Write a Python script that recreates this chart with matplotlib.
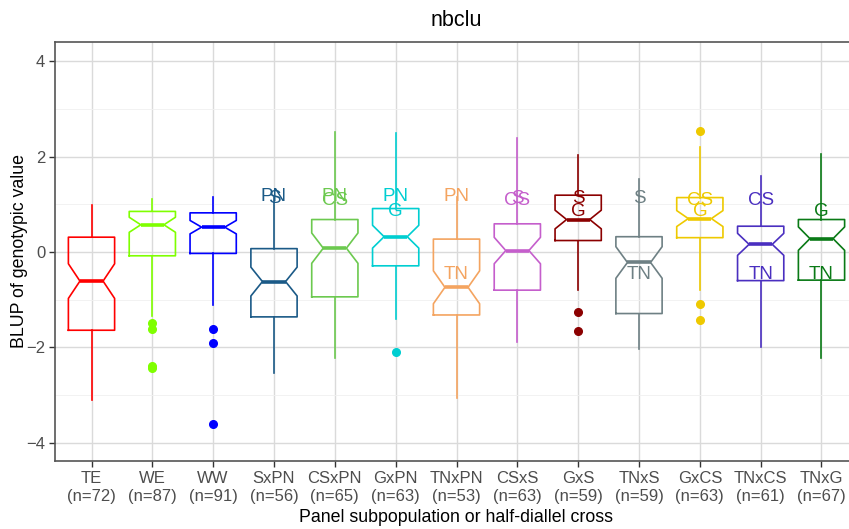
import numpy as np
import matplotlib
matplotlib.use('Agg')
import matplotlib.pyplot as plt

plt.rcParams['font.family'] = ['Liberation Sans', 'DejaVu Sans']

# groups and counts
groups = ['TE', 'WE', 'WW', 'SxPN', 'CSxPN', 'GxPN', 'TNxPN', 'CSxS', 'GxS',
          'TNxS', 'GxCS', 'TNxCS', 'TNxG']
counts = [72, 87, 91, 56, 65, 63, 53, 63, 59, 59, 63, 61, 67]
colors = ['#FF0000', '#7FFF00', '#0000FF', '#1B5A87', '#6CC94F', '#00CED1',
          '#F4A460', '#C55ECC', '#8B0000', '#6E8084', '#EEC900', '#4A2FC0',
          '#0A7A16']

# box statistics
whislo = [-3.10, -1.35, -1.11, -2.54, -2.23, -1.41, -3.06, -1.88, -0.80, -2.03, -0.80, -2.00, -2.23]
q1 = [-1.64, -0.08, -0.03, -1.36, -0.94, -0.29, -1.32, -0.80, 0.24, -1.29, 0.30, -0.60, -0.59]
med = [-0.61, 0.57, 0.52, -0.62, 0.08, 0.32, -0.74, 0.03, 0.68, -0.22, 0.70, 0.16, 0.28]
q3 = [0.31, 0.85, 0.82, 0.07, 0.68, 0.91, 0.27, 0.59, 1.19, 0.32, 1.14, 0.54, 0.68]
whishi = [0.98, 1.10, 1.15, 1.15, 2.51, 2.49, 1.15, 2.39, 2.04, 1.52, 2.20, 1.59, 2.05]
outliers = [[], [-1.48, -1.62, -2.38, -2.43], [-1.62, -1.91, -3.61], [], [],
            [-2.09], [], [], [-1.26, -1.65], [], [2.53, -1.08, -1.42], [], []]

# parent mean labels
parents = ['PN', 'S', 'CS', 'G', 'TN']
parent_means = [1.17, 1.12, 1.07, 0.84, -0.48]
group_parents = [[], [], [], ['PN', 'S'], ['PN', 'CS'], ['PN', 'G'], ['PN', 'TN'],
                 ['CS', 'S'], ['S', 'G'], ['S', 'TN'], ['CS', 'G'], ['CS', 'TN'],
                 ['G', 'TN']]

stats = []
for i in range(len(groups)):
    iqr = q3[i] - q1[i]
    ci = 1.58 * iqr / np.sqrt(counts[i])
    stats.append(dict(med=med[i], q1=q1[i], q3=q3[i], whislo=whislo[i],
                      whishi=whishi[i], fliers=outliers[i],
                      cilo=med[i] - ci, cihi=med[i] + ci))

fig = plt.figure(figsize=(8.49, 5.29), dpi=100)
ax = fig.add_axes([55 / 849, 1 - 461 / 529, 803 / 849, 419 / 529])

pos = np.arange(1, len(groups) + 1)
for i in range(len(groups)):
    c = colors[i]
    ax.bxp([stats[i]], positions=[pos[i]], widths=0.76, shownotches=True,
           showcaps=False, patch_artist=False,
           boxprops=dict(color=c, linewidth=1.2),
           whiskerprops=dict(color=c, linewidth=1.2),
           medianprops=dict(color=c, linewidth=2.6, solid_capstyle='butt'),
           flierprops=dict(marker='o', markerfacecolor=c, markeredgecolor=c,
                           markersize=5.5, linestyle='none'),
           manage_ticks=False, zorder=3)
    for p in group_parents[i]:
        ax.text(pos[i], parent_means[parents.index(p)], p, color=c,
                fontsize=13.5, ha='center', va='center', zorder=4)

ax.set_xlim(0.4, len(groups) + 0.6)
ax.set_ylim(-4.38, 4.40)
ax.set_xticks(pos)
ax.set_xticklabels([f'{g}\n(n={n})' for g, n in zip(groups, counts)],
                   fontsize=12, color='#4D4D4D', linespacing=1.25)
ax.set_yticks([-4, -2, 0, 2, 4])
ax.set_yticks([-3, -1, 1, 3], minor=True)
ax.tick_params(axis='y', labelsize=12, labelcolor='#4D4D4D', pad=3)
ax.tick_params(axis='x', pad=3)
ax.tick_params(which='major', length=4, width=1, color='#333333')
ax.tick_params(which='minor', length=0)
ax.grid(True, which='major', color='#DADADA', linewidth=1, zorder=0)
ax.grid(True, which='minor', axis='y', color='#F0F0F0', linewidth=0.6, zorder=0)
ax.set_axisbelow(True)
for s in ax.spines.values():
    s.set_color('#555555')
    s.set_linewidth(1.2)

ax.text(0.5, 1.0525, 'nbclu', fontsize=15.5, ha='center', va='center',
        transform=ax.transAxes)
ax.set_xlabel('Panel subpopulation or half-diallel cross', fontsize=12.8)
ax.set_ylabel('BLUP of genotypic value', fontsize=12.8)
ax.xaxis.set_label_coords(0.5, (461 - 517) / 419)
ax.yaxis.set_label_coords((19 - 55) / 803, 0.5)
ax.xaxis.label.set_va('center')
ax.yaxis.label.set_va('center')

fig.savefig('out.png', dpi=100)
